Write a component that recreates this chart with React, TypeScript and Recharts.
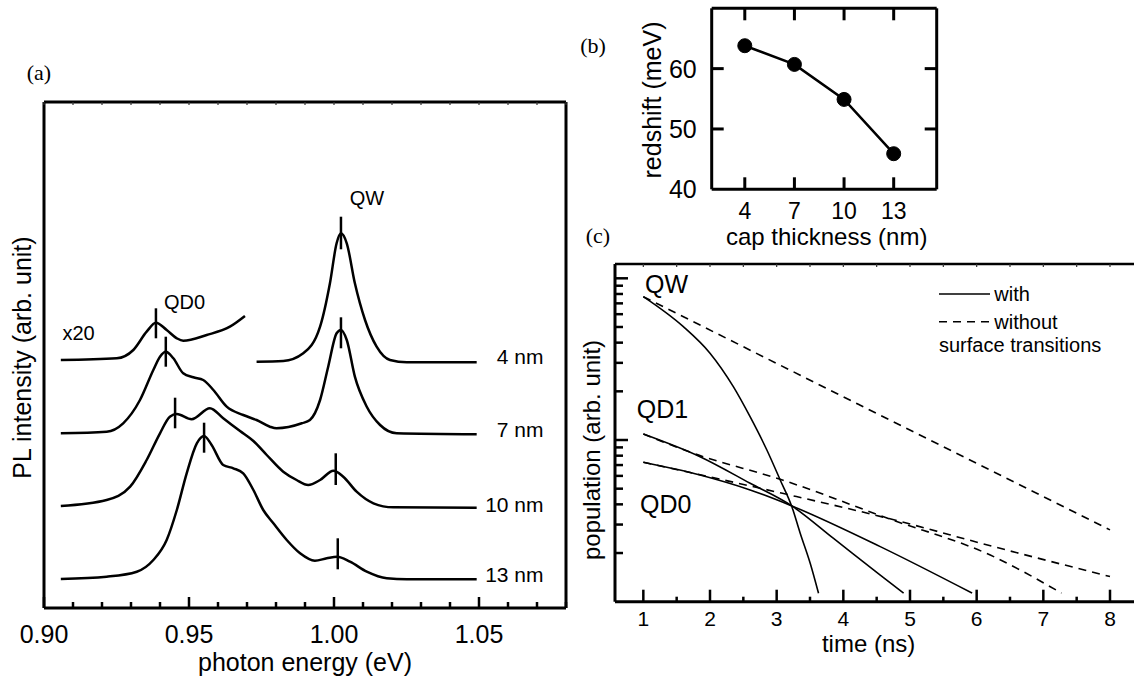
import { ComposedChart, Line, XAxis, YAxis } from "recharts";

const SANS = "'Liberation Sans', Arial, Helvetica, sans-serif";
const SERIF = "'Liberation Serif', 'Times New Roman', serif";
const INK = "#000";

// ---------- (a) PL spectra: photon energy (eV) vs intensity (arb. unit, stacked) ----------
const E_4NM_QD = [0.9058, 0.9251, 0.9308, 0.9354, 0.9386, 0.9423, 0.9458, 0.948, 0.9561, 0.9641, 0.9693];
const I_4NM_QD = [24.8, 24.97, 25.8, 27.63, 28.53, 27.8, 26.97, 26.73, 27.3, 28.13, 29.2];

const E_4NM_QW = [0.9733, 0.9825, 0.9894, 0.9952, 0.9986, 1.0009, 1.0024, 1.0044, 1.0072, 1.0107, 1.0147, 1.0193, 1.0251, 1.0492];
const I_4NM_QW = [24.63, 24.7, 25.47, 28.13, 32.47, 36.47, 37.47, 36.47, 32.47, 28.8, 26.13, 24.8, 24.57, 24.57];

const E_7NM = [0.9058, 0.9216, 0.9273, 0.9331, 0.9377, 0.94, 0.942, 0.9446, 0.948, 0.9515, 0.9549, 0.9584, 0.963, 0.9687, 0.9733, 0.9779, 0.9802, 0.9889, 0.9917, 0.9952, 0.998, 1.0009, 1.0024, 1.0044, 1.0072, 1.0113, 1.0159, 1.0216, 1.0492];
const I_7NM = [17.47, 17.63, 18.47, 20.8, 23.8, 25.13, 25.63, 24.97, 23.47, 23.07, 22.8, 21.8, 20.13, 19.3, 18.8, 18.13, 17.97, 18.47, 18.8, 20.8, 24.13, 27.47, 27.8, 26.8, 23.13, 20.13, 18.3, 17.47, 17.37];

const E_10NM = [0.9058, 0.9216, 0.9297, 0.9354, 0.94, 0.9434, 0.9458, 0.9509, 0.9572, 0.9618, 0.9676, 0.9722, 0.9768, 0.9825, 0.9871, 0.9911, 0.9952, 0.9998, 1.0032, 1.0078, 1.0136, 1.0204, 1.0492];
const I_10NM = [10.2, 10.8, 12.13, 14.8, 17.47, 19.13, 19.4, 18.87, 19.97, 18.97, 17.7, 16.7, 15.3, 13.63, 12.8, 12.3, 12.8, 13.73, 13.13, 11.63, 10.47, 10.07, 10.03];

const E_13NM = [0.9058, 0.9216, 0.932, 0.9377, 0.9423, 0.9458, 0.9492, 0.9527, 0.9552, 0.9578, 0.9618, 0.9653, 0.9687, 0.9722, 0.9756, 0.9791, 0.9837, 0.9883, 0.9934, 0.9975, 1.0011, 1.0055, 1.0113, 1.0182, 1.0251, 1.0492];
const I_13NM = [2.9, 3.13, 3.63, 4.8, 6.8, 9.8, 13.47, 16.47, 17.2, 16.3, 14.3, 13.97, 13.47, 11.8, 9.8, 8.47, 6.8, 5.47, 4.73, 4.97, 5.13, 4.63, 3.63, 2.97, 2.87, 2.87];

// peak markers (QD0 and QW for each cap thickness)
const MARK_E = [0.9386, 1.0024, 0.942, 1.0024, 0.9452, 1.0006, 0.9552, 1.0013];
const MARK_TOP = [29.97, 39.13, 27.13, 29.07, 21.03, 15.47, 18.53, 6.97];
const MARK_BOT = [26.97, 35.87, 24.13, 25.97, 17.97, 12.3, 15.53, 3.87];

const ENERGY_TICKS = [0.9, 0.91, 0.92, 0.93, 0.94, 0.95, 0.96, 0.97, 0.98, 0.99, 1.0, 1.01, 1.02, 1.03, 1.04, 1.05, 1.06, 1.07, 1.08];
const ENERGY_MAJOR = [0.9, 0.95, 1.0, 1.05];
const ENERGY_LABELS = ["0.90", "0.95", "1.00", "1.05"];

// ---------- (b) redshift vs cap thickness ----------
const CAP_NM = [4, 7, 10, 13];
const REDSHIFT_MEV = [63.8, 60.7, 54.9, 45.9];
const REDSHIFT_TICKS = [40, 50, 60];

// ---------- (c) population vs time ----------
const T_QW_WITH = [1.0, 1.6, 2.0, 2.35, 2.601, 2.853, 3.053, 3.228, 3.353, 3.503, 3.628];
const P_QW_WITH = [7.7, 5.02, 3.44, 2.136, 1.393, 0.867, 0.566, 0.387, 0.265, 0.1728, 0.1127];
const T_QW_WITHOUT = [1.0, 4.254, 8.0];
const P_QW_WITHOUT = [7.7, 1.64, 0.278];

const T_QD1_WITH = [1.0, 1.851, 2.602, 3.228, 3.853, 4.554, 4.904];
const P_QD1_WITH = [1.089, 0.788, 0.54, 0.391, 0.246, 0.146, 0.113];
const T_QD1_WITHOUT = [1.0, 1.751, 3.086, 4.655, 6.255, 7.272];
const P_QD1_WITHOUT = [1.089, 0.827, 0.566, 0.329, 0.19, 0.113];

const T_QD0_WITH = [1.0, 1.851, 2.602, 3.228, 4.554, 5.931];
const P_QD0_WITH = [0.728, 0.6075, 0.491, 0.391, 0.219, 0.113];
const T_QD0_WITHOUT = [1.0, 3.086, 4.655, 6.255, 8.0];
const P_QD0_WITHOUT = [0.728, 0.468, 0.329, 0.219, 0.143];

const TIME_TICKS = [1, 1.5, 2, 2.5, 3, 3.5, 4, 4.5, 5, 5.5, 6, 6.5, 7, 7.5, 8, 8.5];
const TIME_LABELS = ["1", "2", "3", "4", "5", "6", "7", "8"];
const POP_TICKS = [0.2, 0.3, 0.4, 0.5, 0.6, 0.7, 0.8, 0.9, 1, 2, 3, 4, 5, 6, 7, 8, 9, 10];
const POP_MAJOR = [1, 10];

const pts = (xs: number[], ys: number[]) => xs.map((x, k) => ({ x, y: ys[k] }));
const near = (a: number, b: number) => Math.abs(a - b) < 1e-6;

const spectra = [
  pts(E_4NM_QD, I_4NM_QD),
  pts(E_4NM_QW, I_4NM_QW),
  pts(E_7NM, I_7NM),
  pts(E_10NM, I_10NM),
  pts(E_13NM, I_13NM),
];
const markers = MARK_E.map((e, k) => [
  { x: e, y: MARK_TOP[k] },
  { x: e, y: MARK_BOT[k] },
]);
const redshift = pts(CAP_NM, REDSHIFT_MEV);
const decays = [
  { d: pts(T_QW_WITH, P_QW_WITH), dash: undefined },
  { d: pts(T_QW_WITHOUT, P_QW_WITHOUT), dash: "8 6" },
  { d: pts(T_QD1_WITH, P_QD1_WITH), dash: undefined },
  { d: pts(T_QD1_WITHOUT, P_QD1_WITHOUT), dash: "8 6" },
  { d: pts(T_QD0_WITH, P_QD0_WITH), dash: undefined },
  { d: pts(T_QD0_WITHOUT, P_QD0_WITHOUT), dash: "8 6" },
];

const frame = { stroke: INK, strokeWidth: 3 };

// ---------- custom ticks (all drawn inward) ----------
const EnergyTick = ({ x, y, payload }: any) => {
  const k = ENERGY_MAJOR.findIndex((t) => near(t, payload.value));
  const major = k >= 0;
  return (
    <g>
      <line x1={x} x2={x} y1={y} y2={y - (major ? 11 : 6)} stroke={INK} strokeWidth={2.5} />
      {major && (
        <text x={x} y={y + 26} textAnchor="middle" dominantBaseline="central" fontSize={25} fontFamily={SANS} fill={INK}>
          {ENERGY_LABELS[k]}
        </text>
      )}
    </g>
  );
};

const TopHairTick = ({ x, y }: any) => (
  <line x1={x} x2={x} y1={y} y2={y + 3} stroke="#333" strokeWidth={1.2} />
);

const CapTick = ({ x, y, payload }: any) => (
  <g>
    <line x1={x} x2={x} y1={y} y2={y - 12} stroke={INK} strokeWidth={3} />
    <text x={x} y={y + 22} textAnchor="middle" dominantBaseline="central" fontSize={23} fontFamily={SANS} fill={INK}>
      {payload.value}
    </text>
  </g>
);

const CapTopTick = ({ x, y }: any) => (
  <line x1={x} x2={x} y1={y} y2={y + 12} stroke={INK} strokeWidth={3} />
);

const ShiftTick = ({ x, y, payload }: any) => (
  <g>
    {payload.value !== 40 && <line x1={x} x2={x + 12} y1={y} y2={y} stroke={INK} strokeWidth={3} />}
    <text x={x - 15} y={y} textAnchor="end" dominantBaseline="central" fontSize={25} fontFamily={SANS} fill={INK}>
      {payload.value}
    </text>
  </g>
);

const ShiftRightTick = ({ x, y }: any) => (
  <line x1={x} x2={x - 12} y1={y} y2={y} stroke={INK} strokeWidth={3} />
);

const TimeTick = ({ x, y, payload }: any) => {
  const k = TIME_LABELS.indexOf(String(payload.value));
  const major = k >= 0;
  return (
    <g>
      <line x1={x} x2={x} y1={y} y2={y - (major ? 12 : 5)} stroke={INK} strokeWidth={2.5} />
      {major && (
        <text x={x} y={y + 17} textAnchor="middle" dominantBaseline="central" fontSize={21} fontFamily={SANS} fill={INK}>
          {TIME_LABELS[k]}
        </text>
      )}
    </g>
  );
};

const PopTick = ({ x, y, payload }: any) => {
  const major = POP_MAJOR.some((t) => near(t, payload.value));
  return <line x1={x} x2={x + (major ? 13 : 8)} y1={y} y2={y} stroke={INK} strokeWidth={2.5} />;
};

const Txt = ({ x, y, size, anchor = "middle", serif = false, rotate = false, children }: any) => (
  <text
    x={rotate ? 0 : x}
    y={rotate ? 0 : y}
    transform={rotate ? `translate(${x},${y}) rotate(-90)` : undefined}
    textAnchor={anchor}
    dominantBaseline="central"
    fontSize={size}
    fontFamily={serif ? SERIF : SANS}
    fill={INK}
  >
    {children}
  </text>
);

// axes get a 1px band (a zero-sized axis is not drawn); margins are trimmed by 1px to match
const flatX = { height: 1, tickSize: 0, tickMargin: 0, tickLine: false, interval: 0 as const, allowDataOverflow: true };
const flatY = { width: 1, tickSize: 0, tickMargin: 0, tickLine: false, interval: 0 as const, allowDataOverflow: true };

export default function App() {
  return (
    <div style={{ position: "absolute", left: 0, top: 0, width: 1134, height: 684, overflow: "hidden", background: "#fff" }}>
      {/* (a) spectra */}
      <div style={{ position: "absolute", left: 0, top: 0 }}>
        <ComposedChart width={580} height={684} margin={{ top: 101, right: 13, bottom: 75, left: 43 }}>
          <XAxis xAxisId="b" type="number" dataKey="x" domain={[0.9, 1.08]} ticks={ENERGY_TICKS} {...flatX}
            axisLine={frame} tick={EnergyTick} />
          <XAxis xAxisId="t" orientation="top" type="number" dataKey="x" domain={[0.9, 1.08]} ticks={ENERGY_TICKS} {...flatX}
            axisLine={frame} tick={TopHairTick} />
          <YAxis yAxisId="l" type="number" domain={[0, 50.6]} {...flatY} tick={false} axisLine={frame} />
          <YAxis yAxisId="r" orientation="right" type="number" domain={[0, 50.6]} {...flatY} tick={false} axisLine={frame} />
          {spectra.map((d, k) => (
            <Line key={`s${k}`} xAxisId="b" yAxisId="l" data={d} dataKey="y" type="monotone" stroke={INK}
              strokeWidth={2.5} dot={false} isAnimationActive={false} />
          ))}
          {markers.map((d, k) => (
            <Line key={`m${k}`} xAxisId="b" yAxisId="l" data={d} dataKey="y" type="linear" stroke={INK}
              strokeWidth={2.5} dot={false} isAnimationActive={false} />
          ))}
        </ComposedChart>
      </div>

      {/* (b) redshift */}
      <div style={{ position: "absolute", left: 560, top: 0 }}>
        <ComposedChart width={400} height={250} margin={{ top: 7.3, right: 22.3, bottom: 59.7, left: 150.7 }}>
          <XAxis xAxisId="b" type="number" dataKey="x" domain={[2, 15.6]} ticks={CAP_NM} {...flatX}
            axisLine={frame} tick={CapTick} />
          <XAxis xAxisId="t" orientation="top" type="number" dataKey="x" domain={[2, 15.6]} ticks={CAP_NM} {...flatX}
            axisLine={frame} tick={CapTopTick} />
          <YAxis yAxisId="l" type="number" domain={[40, 70]} ticks={REDSHIFT_TICKS} {...flatY}
            axisLine={frame} tick={ShiftTick} />
          <YAxis yAxisId="r" orientation="right" type="number" domain={[40, 70]} ticks={[50, 60]} {...flatY}
            axisLine={frame} tick={ShiftRightTick} />
          <Line xAxisId="b" yAxisId="l" data={redshift} dataKey="y" type="linear" stroke={INK} strokeWidth={2.5}
            dot={{ r: 7, fill: INK, stroke: INK, strokeWidth: 1 }} isAnimationActive={false} />
        </ComposedChart>
      </div>

      {/* (c) population decay */}
      <div style={{ position: "absolute", left: 560, top: 250 }}>
        <ComposedChart width={600} height={434} margin={{ top: 13, right: 10, bottom: 81.3, left: 54 }}>
          <XAxis xAxisId="b" type="number" dataKey="x" domain={[0.575, 8.6]} ticks={TIME_TICKS} {...flatX}
            axisLine={frame} tick={TimeTick} />
          <XAxis xAxisId="t" orientation="top" type="number" dataKey="x" domain={[0.575, 8.6]} ticks={TIME_TICKS} {...flatX}
            axisLine={{ stroke: INK, strokeWidth: 2.5 }} tick={TopHairTick} />
          <YAxis yAxisId="l" type="number" scale="log" domain={[0.1, 12.26]} ticks={POP_TICKS} {...flatY}
            axisLine={frame} tick={PopTick} />
          {decays.map((s, k) => (
            <Line key={`c${k}`} xAxisId="b" yAxisId="l" data={s.d} dataKey="y" type="monotone" stroke={INK}
              strokeWidth={1.6} strokeDasharray={s.dash} dot={false} isAnimationActive={false} />
          ))}
        </ComposedChart>
      </div>

      {/* titles, annotations and legend */}
      <svg width={1134} height={684} style={{ position: "absolute", left: 0, top: 0, pointerEvents: "none" }}>
        <Txt x={39} y={72} size={22} serif>(a)</Txt>
        <Txt x={305} y={662} size={25}>photon energy (eV)</Txt>
        <Txt x={22} y={357.5} size={25} rotate>PL intensity (arb. unit)</Txt>
        <Txt x={78.5} y={333} size={20}>x20</Txt>
        <Txt x={184.5} y={302} size={20}>QD0</Txt>
        <Txt x={367} y={198} size={20}>QW</Txt>
        <Txt x={543.5} y={356.7} size={21} anchor="end">4 nm</Txt>
        <Txt x={543.5} y={429} size={21} anchor="end">7 nm</Txt>
        <Txt x={543.5} y={504} size={21} anchor="end">10 nm</Txt>
        <Txt x={543.5} y={574} size={21} anchor="end">13 nm</Txt>

        <Txt x={593} y={45} size={22} serif>(b)</Txt>
        <Txt x={651.7} y={100} size={25} rotate>redshift (meV)</Txt>
        <Txt x={826.7} y={236} size={24}>cap thickness (nm)</Txt>

        <Txt x={598} y={235} size={22} serif>(c)</Txt>
        <Txt x={591.6} y={450} size={24} rotate>population (arb. unit)</Txt>
        <Txt x={868.6} y={643} size={24}>time (ns)</Txt>
        <Txt x={645} y={284} size={25} anchor="start">QW</Txt>
        <Txt x={636.7} y={409} size={25} anchor="start">QD1</Txt>
        <Txt x={640} y={504} size={25} anchor="start">QD0</Txt>
        <line x1={939} x2={990} y1={294} y2={294} stroke={INK} strokeWidth={1.6} />
        <Txt x={994.3} y={294} size={20} anchor="start">with</Txt>
        <line x1={939} x2={990} y1={321.7} y2={321.7} stroke={INK} strokeWidth={1.6} strokeDasharray="8 6" />
        <Txt x={994.3} y={321.7} size={20} anchor="start">without</Txt>
        <Txt x={939} y={345} size={20} anchor="start">surface transitions</Txt>
      </svg>
    </div>
  );
}
